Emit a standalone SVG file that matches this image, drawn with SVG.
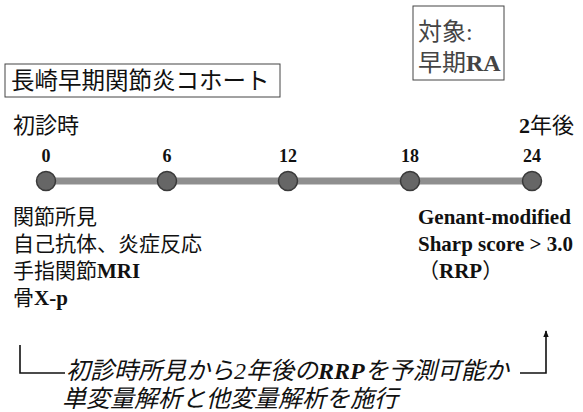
<svg xmlns="http://www.w3.org/2000/svg" width="583" height="412" viewBox="0 0 583 412">
<defs>
<style>
text{font-family:"Liberation Serif","Noto Sans CJK JP",serif;fill:#111}
.b{font-weight:bold}
.jp{font-size:21px}
.it{font-size:24px;font-style:italic}
.num{font-size:18px;font-weight:bold}
.box{fill:none;stroke:#444;stroke-width:1}
.dot{fill:#666;stroke:#3a3a3a;stroke-width:1.5}
.conn{fill:none;stroke:#111;stroke-width:1.6}
</style>
<marker id="ah" viewBox="0 0 10 10" refX="9" refY="5" markerWidth="7" markerHeight="8" orient="auto" markerUnits="userSpaceOnUse">
<path d="M0,1 L10,5 L0,9 Z" fill="#111"/>
</marker>
</defs>
<rect width="583" height="412" fill="#fff"/>
<g id="target">
<rect class="box" x="413" y="6" width="91" height="74"/>
<text x="418" y="40" font-size="24" style="fill:#444">対象:</text>
<text x="418" y="71" font-size="24" style="fill:#444">早期<tspan class="b">RA</tspan></text>
</g>
<g id="cohort">
<rect class="box" x="5" y="64" width="275" height="33"/>
<text x="11" y="89" font-size="23.5">長崎早期関節炎コホート</text>
</g>
<g id="labels">
<text x="13" y="133" font-size="22">初診時</text>
<text x="519" y="133" font-size="22"><tspan class="b">2</tspan>年後</text>
</g>
<g id="timeline">
<line x1="46" y1="181" x2="532" y2="181" stroke="#8f8f8f" stroke-width="7"/>
<g id="t0"><circle class="dot" cx="46" cy="181" r="9.5"/><text class="num" x="46" y="162" text-anchor="middle">0</text></g>
<g id="t6"><circle class="dot" cx="167" cy="181" r="9.5"/><text class="num" x="167" y="162" text-anchor="middle">6</text></g>
<g id="t12"><circle class="dot" cx="288" cy="181" r="9.5"/><text class="num" x="288" y="162" text-anchor="middle">12</text></g>
<g id="t18"><circle class="dot" cx="410" cy="181" r="9.5"/><text class="num" x="410" y="162" text-anchor="middle">18</text></g>
<g id="t24"><circle class="dot" cx="532" cy="181" r="9.5"/><text class="num" x="532" y="162" text-anchor="middle">24</text></g>
</g>
<g id="baseline-findings">
<text class="jp" x="13" y="224">関節所見</text>
<text class="jp" x="13" y="251">自己抗体、炎症反応</text>
<text class="jp" x="13" y="278">手指関節<tspan class="b">MRI</tspan></text>
<text class="jp" x="13" y="305">骨<tspan class="b">X-p</tspan></text>
</g>
<g id="outcome">
<text class="b" x="418" y="224" font-size="21">Genant-modified</text>
<text class="b" x="418" y="251" font-size="21">Sharp score &gt; 3.0</text>
<text x="418" y="278" font-size="21">（<tspan class="b">RRP</tspan>）</text>
</g>
<g id="connectors">
<path class="conn" d="M20,345 V373 H65"/>
<path class="conn" d="M520,373 H546 V331" marker-end="url(#ah)"/>
</g>
<g id="analysis">
<text class="it" x="66" y="379">初診時所見から2年後の<tspan class="b">RRP</tspan>を予測可能か</text>
<text class="it" x="62" y="407">単変量解析と他変量解析を施行</text>
</g>
</svg>
